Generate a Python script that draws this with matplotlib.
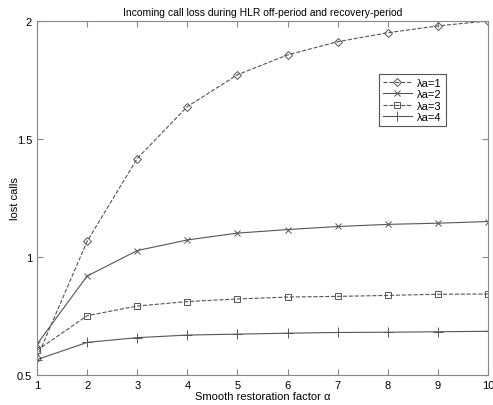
import matplotlib
matplotlib.use('Agg')
import matplotlib.pyplot as plt

plt.rcParams['font.family'] = ['Liberation Sans', 'DejaVu Sans']

alpha = [1, 2, 3, 4, 5, 6, 7, 8, 9, 10]
loss_la1 = [0.573, 1.066, 1.417, 1.637, 1.772, 1.856, 1.912, 1.950, 1.979, 2.0]
loss_la2 = [0.630, 0.919, 1.027, 1.072, 1.101, 1.116, 1.129, 1.138, 1.143, 1.150]
loss_la3 = [0.604, 0.751, 0.792, 0.811, 0.822, 0.830, 0.833, 0.837, 0.842, 0.843]
loss_la4 = [0.565, 0.638, 0.658, 0.669, 0.673, 0.677, 0.680, 0.681, 0.683, 0.685]
labels = ['λa=1', 'λa=2', 'λa=3', 'λa=4']

fig = plt.figure(figsize=(4.93, 4.06), dpi=100)
ax = fig.add_axes([0.075, 0.074, 0.915, 0.872])

c = '#555555'
ax.plot(alpha, loss_la1, '--', marker='D', ms=4, mfc='none', mew=0.7, color=c, lw=0.8, label=labels[0])
ax.plot(alpha, loss_la2, '-', marker='x', ms=4, mew=0.7, color=c, lw=0.8, label=labels[1])
ax.plot(alpha, loss_la3, '--', marker='s', ms=5, mfc='none', mew=0.7, color=c, lw=0.8, label=labels[2])
ax.plot(alpha, loss_la4, '-', marker='+', ms=7, mew=0.7, color=c, lw=0.8, label=labels[3])

ax.set_xlim(1, 10)
ax.set_ylim(0.5, 2)
ax.set_xticks(alpha)
ax.set_yticks([0.5, 1, 1.5, 2])
ax.set_yticklabels(['0.5', '1', '1.5', '2'])
ax.tick_params(direction='in', top=True, right=True, labelsize=8, length=4, color='#888888', width=0.8)
for s in ax.spines.values():
    s.set_color('#888888')
    s.set_linewidth(0.8)

ax.set_title('Incoming call loss during HLR off-period and recovery-period', fontsize=7.5, pad=4)
ax.set_xlabel('Smooth restoration factor α', fontsize=8, labelpad=1)
ax.set_ylabel('lost calls', fontsize=8, labelpad=-2)

leg = ax.legend(loc='upper left', bbox_to_anchor=(0.758, 0.85), borderaxespad=0, fontsize=8,
                handlelength=2.6, handletextpad=0.5, borderpad=0.35, labelspacing=0.12,
                fancybox=False, edgecolor='#555555', framealpha=1)
leg.get_frame().set_linewidth(0.8)

fig.savefig('out.png', dpi=100)
